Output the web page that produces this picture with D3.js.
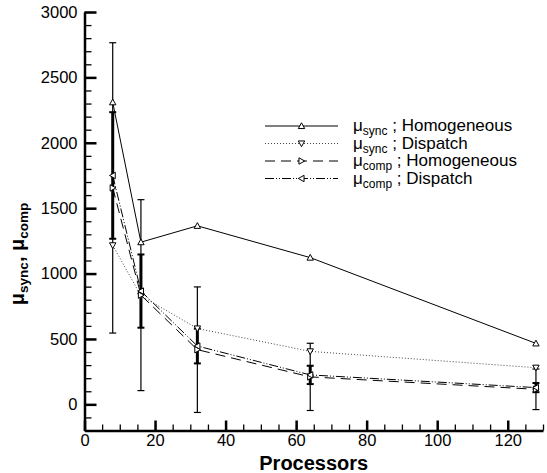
<!DOCTYPE html>
<html>
<head lang="en">
  <meta charset="UTF-8">
  <title>mu sync / mu comp vs processors</title>
</head>
<style>
  body { margin: 0; background: #fff; }
  svg text { font-family: "Liberation Sans", Arial, sans-serif; }
  .axis path, .axis line { stroke: #000; }
</style>
<body>

<svg id="chart" width="547" height="473"></svg>

<script src="https://cdn.jsdelivr.net/npm/d3@7"></script>
<script>
  // Data
  var procs = [8, 16, 32, 64, 128];
  var syncHomog = [2310, 1240, 1365, 1122, 466];
  var syncDispatch = [1216, 830, 580, 405, 280];
  var compHomog = [1655, 835, 418, 210, 115];
  var compDispatch = [1750, 866, 446, 225, 128];
  var compHomogErr = [1110, 730, 480, 257, 155];
  var compDispatchErr = [484, 280, 133, 70, 35];
  var xTicks = [0, 20, 40, 60, 80, 100, 120];
  var yTicks = [0, 500, 1000, 1500, 2000, 2500, 3000];
  var legendNames = ['Homogeneous', 'Dispatch', 'Homogeneous', 'Dispatch'];
  var legendSubs = ['sync', 'sync', 'comp', 'comp'];

  var svg = d3.select('#chart');

  var x = d3.scaleLinear().domain([0, 130]).range([84.5, 543]);
  var y = d3.scaleLinear().domain([-200, 3000]).range([430.5, 12]);

  var series = [
    { values: syncHomog, dash: null, color: '#000', marker: 'up' },
    { values: syncDispatch, dash: '1,2', color: '#444', marker: 'down' },
    { values: compHomog, dash: '10,6', color: '#000', marker: 'right' },
    { values: compDispatch, dash: '9,2,1,2,1,2', color: '#000', marker: 'left' }
  ];

  // Axes: major + minor ticks pointing inward
  var xMinor = d3.range(0, 131, 5);
  var yMinor = d3.range(-200, 3001, 100);

  svg.append('g')
    .attr('class', 'axis')
    .attr('transform', 'translate(0,' + y(-200) + ')')
    .call(d3.axisBottom(x).tickValues(xMinor).tickSize(-6).tickSizeOuter(0).tickFormat(''))
    .call(function(g) { g.select('.domain').remove(); g.selectAll('line').attr('stroke-width', 1.3); });

  svg.append('g')
    .attr('class', 'axis')
    .attr('transform', 'translate(' + x(0) + ',0)')
    .call(d3.axisLeft(y).tickValues(yMinor).tickSize(-7).tickSizeOuter(0).tickFormat(''))
    .call(function(g) { g.select('.domain').remove(); g.selectAll('line').attr('stroke-width', 1.3); });

  svg.append('g')
    .attr('class', 'axis')
    .attr('transform', 'translate(0,' + y(-200) + ')')
    .call(d3.axisBottom(x).tickValues(xTicks).tickSize(-10).tickSizeOuter(0).tickPadding(4).tickFormat(d3.format('d')))
    .call(function(g) {
      g.select('.domain').attr('stroke-width', 2.5);
      g.selectAll('line').attr('stroke-width', 2.5);
      g.selectAll('text').attr('font-size', 16.5).attr('fill', '#000');
    });

  svg.append('g')
    .attr('class', 'axis')
    .attr('transform', 'translate(' + x(0) + ',0)')
    .call(d3.axisLeft(y).tickValues(yTicks).tickSize(-12).tickSizeOuter(0).tickPadding(7).tickFormat(d3.format('d')))
    .call(function(g) {
      g.select('.domain').attr('stroke-width', 2.5);
      g.selectAll('line').attr('stroke-width', 2.5);
      g.selectAll('text').attr('font-size', 16.5).attr('fill', '#000');
    });

  // Axis titles
  svg.append('text')
    .attr('x', x(65)).attr('y', 470)
    .attr('text-anchor', 'middle')
    .attr('font-size', 20).attr('font-weight', 'bold')
    .text('Processors');

  var yl = svg.append('text')
    .attr('transform', 'translate(24,' + y(1150) + ') rotate(-90)')
    .attr('text-anchor', 'middle')
    .attr('font-size', 20).attr('font-weight', 'bold');
  yl.append('tspan').text('\u03bc');
  yl.append('tspan').attr('font-size', 13.5).attr('dy', 4).text('sync');
  yl.append('tspan').attr('dy', -4).text(', \u03bc');
  yl.append('tspan').attr('font-size', 13.5).attr('dy', 4).text('comp');

  // Error bars (comp series)
  function errorBars(vals, errs, width, capW) {
    var g = svg.append('g').attr('stroke', '#000');
    procs.forEach(function(p, i) {
      var cx = x(p), top = y(vals[i] + errs[i]), bot = y(vals[i] - errs[i]);
      g.append('line').attr('x1', cx).attr('x2', cx).attr('y1', top).attr('y2', bot).attr('stroke-width', width);
      g.append('line').attr('x1', cx - capW).attr('x2', cx + capW).attr('y1', top).attr('y2', top).attr('stroke-width', width > 2 ? 2 : 1.2);
      g.append('line').attr('x1', cx - capW).attr('x2', cx + capW).attr('y1', bot).attr('y2', bot).attr('stroke-width', width > 2 ? 2 : 1.2);
    });
  }
  errorBars(compHomog, compHomogErr, 1.2, 3.5);
  errorBars(compDispatch, compDispatchErr, 3, 3.5);

  // Markers
  function markerPath(type, cx, cy) {
    var s = 3.2;
    if (type === 'up') return 'M' + cx + ',' + (cy - s) + 'L' + (cx + s) + ',' + (cy + s * 0.8) + 'L' + (cx - s) + ',' + (cy + s * 0.8) + 'Z';
    if (type === 'down') return 'M' + cx + ',' + (cy + s) + 'L' + (cx + s) + ',' + (cy - s * 0.8) + 'L' + (cx - s) + ',' + (cy - s * 0.8) + 'Z';
    if (type === 'right') return 'M' + (cx + s) + ',' + cy + 'L' + (cx - s * 0.8) + ',' + (cy - s) + 'L' + (cx - s * 0.8) + ',' + (cy + s) + 'Z';
    return 'M' + (cx - s) + ',' + cy + 'L' + (cx + s * 0.8) + ',' + (cy - s) + 'L' + (cx + s * 0.8) + ',' + (cy + s) + 'Z';
  }

  var line = d3.line()
    .x(function(d, i) { return x(procs[i]); })
    .y(function(d) { return y(d); });

  series.forEach(function(s) {
    svg.append('path')
      .attr('d', line(s.values))
      .attr('fill', 'none')
      .attr('stroke', s.color)
      .attr('stroke-width', 1)
      .attr('stroke-dasharray', s.dash);
    svg.append('g').selectAll('path')
      .data(s.values)
      .enter()
      .append('path')
      .attr('d', function(d, i) { return markerPath(s.marker, x(procs[i]), y(d)); })
      .attr('fill', '#fff')
      .attr('stroke', '#000')
      .attr('stroke-width', 1);
  });

  // Legend
  var legendY = [126, 143.5, 161, 178.5];
  series.forEach(function(s, i) {
    var ly = legendY[i];
    svg.append('line')
      .attr('x1', 265).attr('x2', 338).attr('y1', ly).attr('y2', ly)
      .attr('stroke', s.color).attr('stroke-width', 1)
      .attr('stroke-dasharray', s.dash);
    svg.append('path')
      .attr('d', markerPath(s.marker, 301.5, ly))
      .attr('fill', '#fff').attr('stroke', '#000').attr('stroke-width', 1);
    var t = svg.append('text')
      .attr('x', 353).attr('y', ly + 5)
      .attr('font-size', 17);
    t.append('tspan').text('\u03bc');
    t.append('tspan').attr('font-size', 12).attr('dy', 4).text(legendSubs[i]);
    t.append('tspan').attr('dy', -4).text(' ; ' + legendNames[i]);
  });
</script>
</body>
</html>
